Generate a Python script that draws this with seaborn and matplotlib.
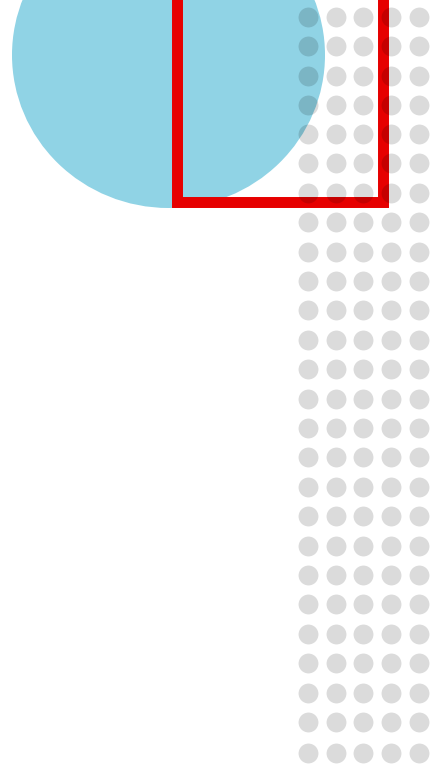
import matplotlib

matplotlib.use("Agg")

import matplotlib.pyplot as plt
import pandas as pd
import seaborn as sns
from matplotlib.patches import Ellipse

# canvas coordinates in pixels (y grows downward)
WIDTH, HEIGHT = 433, 769

blob_center = (168.5, 55)
blob_size = (313, 306)

frame_x = [177, 177, 383, 383]
frame_y = [-20, 202, 202, -20]

dot_cols = [308, 336, 363, 391, 419]
dot_rows = [17, 46, 76, 105, 134, 163, 193, 222, 252, 281, 310, 340, 369,
            399, 428, 457, 487, 516, 546, 575, 604, 634, 663, 693, 722, 753]

dots = pd.DataFrame(
    [(x, y) for y in dot_rows for x in dot_cols], columns=["x", "y"]
)

sns.set_theme(style="white")
fig = plt.figure(figsize=(WIDTH / 100, HEIGHT / 100), dpi=100)
ax = fig.add_axes([0, 0, 1, 1])

ax.add_patch(Ellipse(blob_center, *blob_size, color="#90d3e5", lw=0, zorder=1))
ax.plot(frame_x, frame_y, color="#e60000", lw=7.9, solid_joinstyle="miter",
        solid_capstyle="butt", zorder=2)

sns.scatterplot(data=dots, x="x", y="y", s=205, color="black", alpha=0.14,
                linewidth=0, ax=ax, zorder=3, legend=False)
ax.set_xlim(0, WIDTH)
ax.set_ylim(HEIGHT, 0)
ax.axis("off")

fig.savefig("out.png", dpi=100, facecolor="white")
